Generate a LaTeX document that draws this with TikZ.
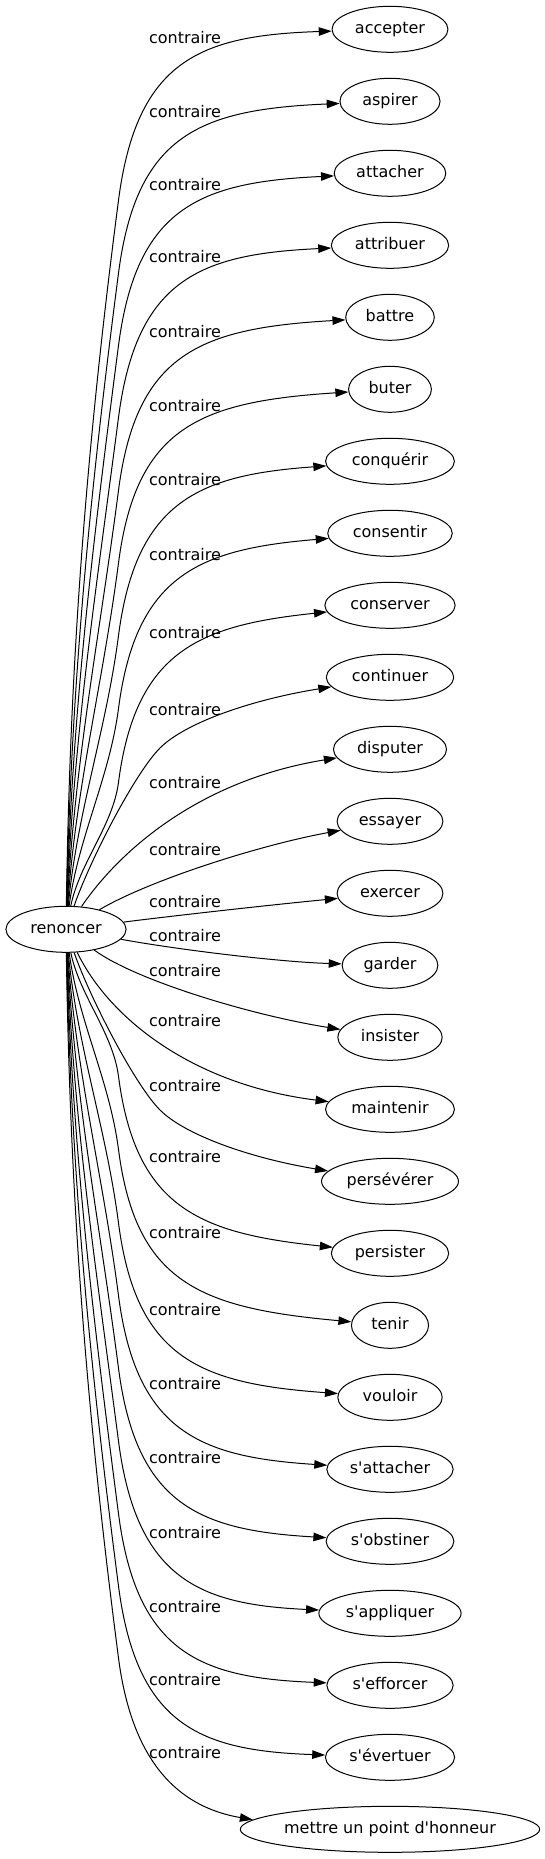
\documentclass[tikz,border=0pt]{standalone}
\usepackage{fontspec}
\setmainfont{DejaVu Sans}
\usetikzlibrary{arrows.meta,shapes.geometric}
\begin{document}
\begin{tikzpicture}[x=1pt,y=-1pt,
  txt/.style={font=\fontsize{16}{19}\selectfont, text height=11.6pt, text depth=3.8pt},
  word/.style={txt, draw, ellipse, minimum height=46pt, inner sep=0pt, line width=1pt},
  lbl/.style={txt, inner sep=0pt},
  edge/.style={line width=1pt, -{Triangle[length=13pt,width=8.5pt]}}]
\useasboundingbox (0,0) rectangle (544,1859);
% source node
\node[word, minimum width=120.2pt] (renoncer) at (66,929.3) {renoncer};
% target nodes
\foreach \nm/\tx/\w/\idx in {
  accepter/accepter/115.9/0, aspirer/aspirer/100.1/1, attacher/attacher/111.6/2,
  attribuer/attribuer/117.3/3, battre/battre/88.6/4, buter/buter/82.8/5,
  conquerir/conquérir/128.8/6, consentir/consentir/124.5/7, conserver/conserver/130.3/8,
  continuer/continuer/127.4/9, disputer/disputer/113.1/10, essayer/essayer/105.8/11,
  exercer/exercer/105.8/12, garder/garder/95.7/13, insister/insister/104.4/14,
  maintenir/maintenir/128.9/15, perseverer/persévérer/136.9/16, persister/persister/117.3/17,
  tenir/tenir/77.1/18, vouloir/vouloir/104.4/19,
  sattacher/s\textquotesingle attacher/126.3/20, sobstiner/s\textquotesingle obstiner/127.8/21,
  sappliquer/s\textquotesingle appliquer/142.2/22, sefforcer/s\textquotesingle efforcer/126.3/23,
  severtuer/s\textquotesingle évertuer/129.2/24,
  mettre/mettre un point d\textquotesingle honneur/296.8/25}
{
  \pgfmathsetmacro\yy{29.3+72*\idx}
  \node[word, minimum width=\w pt] (\nm) at (390,\yy) {\tx};
}
% edge labels
\foreach \L [count=\k] in {38.7,113,186,258,333,407,481,556,634,711,784,851,903,937,972,1022,1087,1158,1234,1311,1385,1459,1534,1608,1681,1754}
{
  \pgfmathsetmacro\ly{\L+1}
  \node[lbl] (lab\k) at (185,\ly) {contraire};
}
% upper edges (generic)
\foreach \nm/\idx/\off in {accepter/0/9, aspirer/1/12, attacher/2/13, attribuer/3/13, battre/4/16, buter/5/18, conquerir/6/20, consentir/7/23, conserver/8/29}
{
  \pgfmathsetmacro\yt{29.3+72*\idx}
  \pgfmathsetmacro\ee{\off-9}
  \pgfmathsetmacro\ky{\yt+171+0.3*\ee}
  \pgfmathsetmacro\cthy{\yt+31+0.7*\ee}
  \pgfmathsetmacro\cthx{118.5+0.13*(\ky-\cthy)}
  \pgfmathsetmacro\cfy{\yt+6+0.7*\ee}
  \pgfmathsetmacro\dd{906-\ky}
  \pgfmathsetmacro\ctwx{118.5-0.0455*\dd}
  \pgfmathsetmacro\ctwy{\ky+0.35*\dd}
  \pgfmathsetmacro\conx{70+1.2*\idx}
  \pgfmathsetmacro\cony{906-0.35*\dd}
  \draw[edge] (renoncer) .. controls (\conx,\cony) and (\ctwx,\ctwy) .. (118.5,\ky)
     .. controls (\cthx,\cthy) and (200,\cfy) .. (\nm);
}
% lower edges (generic)
\foreach \nm/\idx/\off in {persister/17/-95, tenir/18/-91, vouloir/19/-86, sattacher/20/-84, sobstiner/21/-82, sappliquer/22/-79, sefforcer/23/-77, severtuer/24/-76}
{
  \pgfmathsetmacro\yt{29.3+72*\idx}
  \pgfmathsetmacro\ee{-1*(\off)-75}
  \pgfmathsetmacro\ky{\yt-171-0.3*\ee}
  \pgfmathsetmacro\cthy{\yt-31-0.7*\ee}
  \pgfmathsetmacro\cthx{118.5+0.13*(\cthy-\ky)}
  \pgfmathsetmacro\cfy{\yt-6-0.7*\ee}
  \pgfmathsetmacro\dd{\ky-952}
  \pgfmathsetmacro\ctwx{118.5-0.0455*\dd}
  \pgfmathsetmacro\ctwy{\ky-0.35*\dd}
  \pgfmathsetmacro\conx{70+1.2*(25-\idx)}
  \pgfmathsetmacro\cony{952+0.35*\dd}
  \draw[edge] (renoncer) .. controls (\conx,\cony) and (\ctwx,\ctwy) .. (118.5,\ky)
     .. controls (\cthx,\cthy) and (200,\cfy) .. (\nm);
}
% middle edges (individual)
\draw[edge] (renoncer) .. controls (90,860) and (135,773) .. (160,748)
   .. controls (185,723) and (250,700) .. (continuer);
\draw[edge] (renoncer) .. controls (120,850) and (200,780) .. (disputer);
\draw[edge] (renoncer) .. controls (150,880) and (260,845) .. (essayer);
\draw[edge] (renoncer) .. controls (180,915) and (270,905) .. (exercer);
\draw[edge] (renoncer) .. controls (180,950) and (280,962) .. (garder);
\draw[edge] (renoncer) .. controls (135,980) and (250,1015) .. (insister);
\draw[edge] (renoncer) .. controls (110,1020) and (195,1085) .. (maintenir);
\draw[edge] (renoncer) .. controls (90,998) and (135,1085) .. (160,1110)
   .. controls (185,1135) and (250,1158) .. (perseverer);
\draw[edge] (renoncer) .. controls (70,1199) and (86.4,1411) .. (118.5,1658)
   .. controls (133,1770) and (185,1808) .. (mettre.176);
\end{tikzpicture}
\end{document}
